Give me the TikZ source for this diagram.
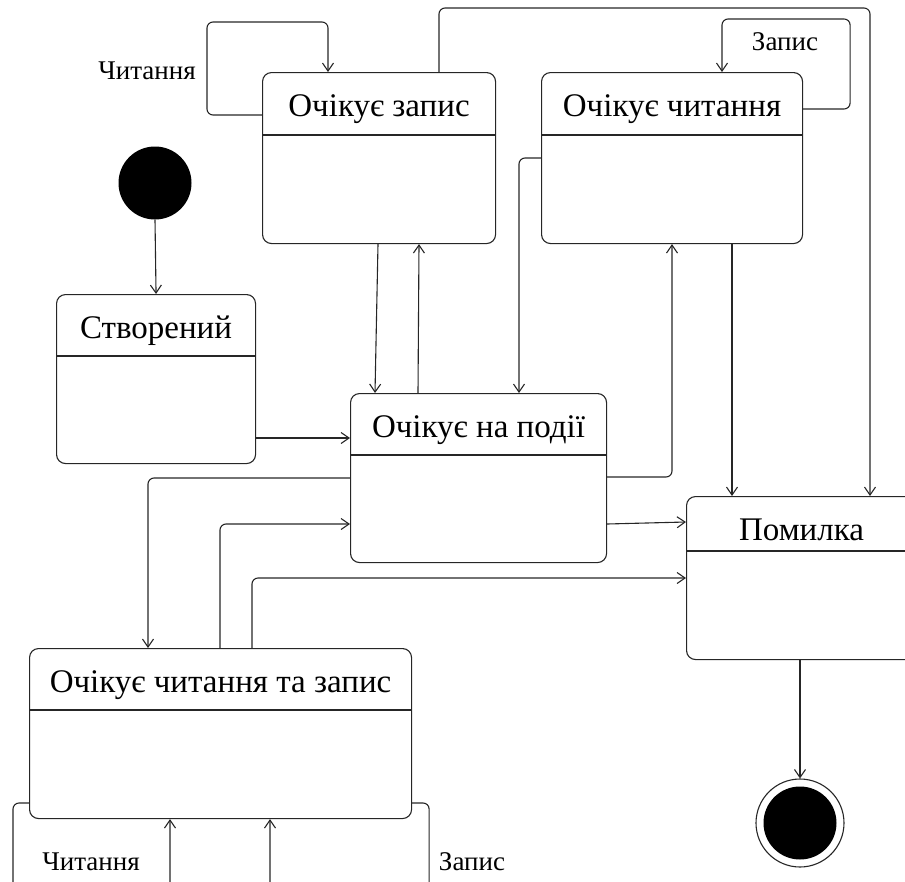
\documentclass[tikz,border=0pt]{standalone}
\usepackage{fontspec}
\setmainfont{Liberation Serif}
\usetikzlibrary{calc,arrows.meta}

\tikzset{
  ink/.style={draw=black!85, line width=1.1pt},
  statebox/.style={ink, rounded corners=9pt, inner sep=0pt, anchor=north west},
  title/.style={font=\fontsize{33}{38}\selectfont, inner sep=0pt},
  lbl/.style={font=\fontsize{27}{31}\selectfont, inner sep=0pt},
  conn/.style={ink, rounded corners=6pt, -{Straight Barb[length=8pt,width=11pt,line width=1.1pt]}}
}

% a state box with a title compartment: name, x, y, width, height, header height, title
\newcommand{\umlstate}[7]{%
  \node[statebox, minimum width=#4pt, minimum height=#5pt] (#1) at (#2,#3) {};
  \draw[ink] ($(#1.north west)+(0,#6)$) -- ($(#1.north east)+(0,#6)$);
  \node[title] at ($(#1.north)+(0,#6/2+6)$) {#7};
}

\begin{document}
\begin{tikzpicture}[x=1pt, y=-1pt]
\useasboundingbox (0,0) rectangle (905,881);
\clip (0,0) rectangle (905,881);

% states
\umlstate{oz}{262}{72}{233}{171}{63}{Очікує запис}
\umlstate{och}{541}{72}{261}{171}{63}{Очікує читання}
\umlstate{sozd}{56}{294}{199}{169}{62}{Створений}
\umlstate{onp}{350}{393}{256}{169}{62}{Очікує на події}
\umlstate{pom}{686}{496}{230}{163}{55}{Помилка}
\umlstate{ochz}{29}{648}{382}{170}{62}{Очікує читання та запис}

% initial and final pseudostates
\node[circle, fill=black, minimum size=73pt, inner sep=0pt] (init) at (155,183) {};
\node[circle, ink, minimum size=88pt, inner sep=0pt] (final) at (800,823) {};
\node[circle, fill=black, minimum size=73pt, inner sep=0pt] (finalin) at (final.center) {};

% transitions
\draw[conn] (init.south) -- (sozd.north);
\draw[conn] ($(sozd.north east)+(0,144)$) -- ($(onp.north west)+(0,45)$);
\draw[conn] ($(oz.south west)+(116,0)$) -- ($(onp.north west)+(25,0)$);
\draw[conn] ($(onp.north west)+(68,0)$) -- ($(oz.south west)+(157,0)$);
\draw[conn] ($(och.north west)+(0,86)$) -| ($(onp.north west)+(169,0)$);
\draw[conn] ($(onp.north east)+(0,84)$) -| ($(och.south west)+(131,0)$);
\draw[conn] ($(och.south west)+(191,0)$) -- ($(pom.north west)+(46,0)$);
\draw[conn] ($(oz.north west)+(177,0)$) -- ++(0,-64) -| ($(pom.north west)+(184,0)$);
\draw[conn] ($(onp.north west)+(0,85)$) -| ($(ochz.north west)+(119,0)$);
\draw[conn] ($(ochz.north west)+(191,0)$) |- ($(onp.north west)+(0,131)$);
\draw[conn] ($(ochz.north west)+(223,0)$) |- ($(pom.north west)+(0,82)$);
\draw[conn] ($(onp.north east)+(0,131)$) -- ($(pom.north west)+(0,26)$);
\draw[conn] ($(pom.south west)+(114,0)$) -- (final.north);

% self transitions
\draw[conn] ($(oz.north west)+(0,43)$) -- ++(-55,0) -- ++(0,-93) -| ($(oz.north west)+(66,0)$);
\draw[conn] ($(och.north east)+(0,37)$) -- ++(47,0) -- ++(0,-90) -| ($(och.north west)+(181,0)$);
\draw[conn] ($(ochz.north west)+(0,155)$) -- ++(-16,0) -- ++(0,95) -| ($(ochz.south west)+(141,0)$);
\draw[conn] ($(ochz.north east)+(0,155)$) -- ++(17,0) -- ++(0,95) -| ($(ochz.south west)+(241,0)$);

% transition labels
\node[lbl] (l1) at (147,71) {Читання};
\node[lbl] (l2) at (785,42) {Запис};
\node[lbl] (l3) at (91,862) {Читання};
\node[lbl] (l4) at (472,862) {Запис};
\end{tikzpicture}
\end{document}
